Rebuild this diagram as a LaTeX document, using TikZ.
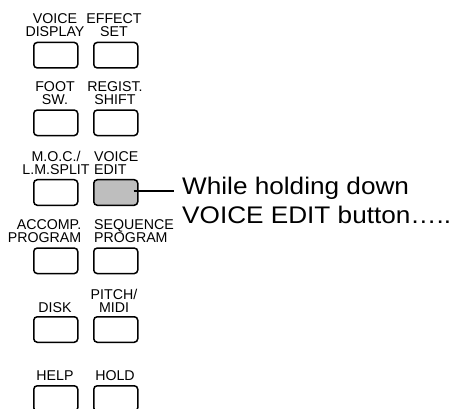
\documentclass[tikz,border=0pt]{standalone}
\usepackage{fontspec}
\setmainfont{Liberation Sans}
\newfontfamily\notefont[FakeStretch=1.09]{Liberation Sans}
\definecolor{btngray}{HTML}{BEBEBE}
\begin{document}
\begin{tikzpicture}[x=1pt,y=-1pt,
  btn/.style={draw=black,line width=1.5pt,rounded corners=3.5pt,minimum width=44pt,minimum height=25.5pt,inner sep=0pt,anchor=north west},
  lbl/.style={inner sep=0pt,text depth=0pt,font=\fontsize{14.2}{13.3}\selectfont,anchor=south,align=center},
  note/.style={inner sep=0pt,font=\notefont\fontsize{24}{29}\selectfont,anchor=base west,align=left}]
\useasboundingbox (0,0) rectangle (458,409);
\clip (0,0) rectangle (458,409);
% buttons
\node[btn] (b1l) at (33,41.7) {};
\node[btn] (b1r) at (93,41.7) {};
\node[btn] (b2l) at (33,109.3) {};
\node[btn] (b2r) at (93,109.3) {};
\node[btn] (b3l) at (33,179) {};
\node[btn,fill=btngray] (b3r) at (93,179) {};
\node[btn] (b4l) at (33,247.3) {};
\node[btn] (b4r) at (93,247.3) {};
\node[btn] (b5l) at (33,316) {};
\node[btn] (b5r) at (93,316) {};
\node[btn] (b6l) at (33,385) {};
\node[btn] (b6r) at (93,385) {};
% labels
\node[lbl] (t1l) at (55,37) {VOICE\\DISPLAY};
\node[lbl] (t1r) at (114,37) {EFFECT\\SET};
\node[lbl] (t2l) at (55,105) {FOOT\\SW.};
\node[lbl] (t2r) at (115,105) {REGIST.\\SHIFT};
\node[lbl] (t3l) at (56,175) {M.O.C./\\L.M.SPLIT};
\node[lbl,anchor=south west,align=left] (t3r) at (94,175) {VOICE\\EDIT};
\node[lbl,anchor=south east,align=right] (t4l) at (81.5,243) {ACCOMP.\\PROGRAM};
\node[lbl,anchor=south west,align=left] (t4r) at (94,243) {SEQUENCE\\PROGRAM};
\node[lbl] (t5l) at (55,312.5) {DISK};
\node[lbl] (t5r) at (114,312.5) {PITCH/\\MIDI};
\node[lbl] (t6l) at (55,381) {HELP};
\node[lbl] (t6r) at (115,381) {HOLD};
% note
\node[note] (n) at (182,223.5) {While holding down\\VOICE EDIT button…..};
\coordinate (lineend) at (174,191);
\draw[line width=2.5pt] ([xshift=-5pt]b3r.east |- lineend) -- (lineend);
\end{tikzpicture}
\end{document}
